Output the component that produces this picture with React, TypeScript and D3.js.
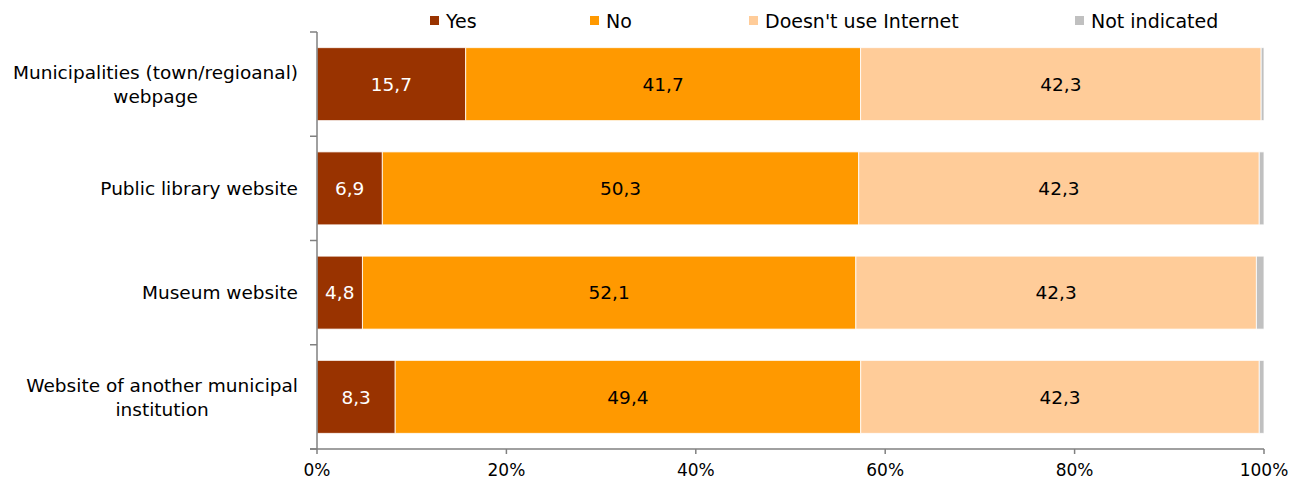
import React, { useEffect, useRef } from "react";
import * as d3 from "d3";

const categories = [
  ["Municipalities (town/regioanal)", "webpage"],
  ["Public library website"],
  ["Museum website"],
  ["Website of another municipal", "institution"],
];
const seriesNames = ["Yes", "No", "Doesn't use Internet", "Not indicated"];
const yesValues = [15.7, 6.9, 4.8, 8.3];
const noValues = [41.7, 50.3, 52.1, 49.4];
const noInternetValues = [42.3, 42.3, 42.3, 42.3];
const notIndicatedValues = [0.3, 0.5, 0.8, 0.5];
const colors = ["#993300", "#FF9900", "#FFCC99", "#C0C0C0"];
const labelColors = ["#ffffff", "#000000", "#000000", "#000000"];
const xTicks = [0, 0.2, 0.4, 0.6, 0.8, 1];

const W = 1304;
const H = 483;
const FONT = "'DejaVu Sans', Verdana, sans-serif";

export default function App() {
  const ref = useRef<SVGSVGElement>(null);
  useEffect(() => {
    const svg = d3.select(ref.current);
    svg.selectAll("*").remove();
    const left = 317, right = 1264, top = 32, bottom = 449;
    const x = d3.scaleLinear().domain([0, 1]).range([left, right]);
    const y = d3
      .scaleBand<number>()
      .domain(d3.range(categories.length))
      .range([top, bottom])
      .paddingInner(0.3)
      .paddingOuter(0.15);

    const series = [yesValues, noValues, noInternetValues, notIndicatedValues];

    categories.forEach((_, i) => {
      const total = d3.sum(series, (s) => s[i]);
      let acc = 0;
      series.forEach((s, k) => {
        const v = s[i];
        const x0 = x(acc / total);
        const x1 = x((acc + v) / total);
        acc += v;
        svg
          .append("rect")
          .attr("x", x0)
          .attr("y", y(i)!)
          .attr("width", Math.max(0, x1 - x0))
          .attr("height", y.bandwidth())
          .attr("fill", colors[k])
          .attr("stroke", "#ffffff")
          .attr("stroke-width", 1)
          .attr("stroke-opacity", 0.8);
        if (k < 3) {
          svg
            .append("text")
            .attr("x", (x0 + x1) / 2)
            .attr("y", y(i)! + y.bandwidth() / 2)
            .attr("dy", "0.36em")
            .attr("text-anchor", "middle")
            .attr("font-family", FONT)
            .attr("font-size", 18.5)
            .attr("fill", labelColors[k])
            .text(d3.format(".1f")(v).replace(".", ","));
        }
      });
    });

    const axisColor = "#808080";
    svg
      .append("line")
      .attr("x1", left)
      .attr("x2", left)
      .attr("y1", top)
      .attr("y2", bottom)
      .attr("stroke", axisColor)
      .attr("stroke-width", 1.5);
    const bounds = d3.range(categories.length + 1).map((j) => top + j * ((bottom - top) / categories.length));
    bounds.forEach((b) => {
      svg
        .append("line")
        .attr("x1", left - 7)
        .attr("x2", left)
        .attr("y1", b)
        .attr("y2", b)
        .attr("stroke", axisColor)
        .attr("stroke-width", 1.5);
    });
    svg
      .append("line")
      .attr("x1", left - 7)
      .attr("x2", right)
      .attr("y1", bottom)
      .attr("y2", bottom)
      .attr("stroke", axisColor)
      .attr("stroke-width", 1.5);
    xTicks.forEach((t) => {
      svg
        .append("line")
        .attr("x1", x(t))
        .attr("x2", x(t))
        .attr("y1", bottom)
        .attr("y2", bottom + 5)
        .attr("stroke", axisColor)
        .attr("stroke-width", 1.5);
      svg
        .append("text")
        .attr("x", x(t))
        .attr("y", 470)
        .attr("dy", "0.36em")
        .attr("text-anchor", "middle")
        .attr("font-family", FONT)
        .attr("font-size", 17)
        .attr("fill", "#000")
        .text(d3.format(".0%")(t));
    });

    categories.forEach((lines, i) => {
      const g = svg.append("g");
      const cy = y(i)! + y.bandwidth() / 2;
      const lh = 24;
      const texts = lines.map((line, j) =>
        g
          .append("text")
          .attr("y", cy + (j - (lines.length - 1) / 2) * lh)
          .attr("dy", "0.36em")
          .attr("text-anchor", "middle")
          .attr("font-family", FONT)
          .attr("font-size", 18.5)
          .attr("fill", "#000")
          .text(line)
      );
      const maxW = d3.max(texts, (t) => (t.node() as SVGTextElement).getComputedTextLength()) || 0;
      texts.forEach((t) => t.attr("x", 298 - maxW / 2));
    });

    const legendX = [430, 590, 749, 1075];
    seriesNames.forEach((name, k) => {
      svg
        .append("rect")
        .attr("x", legendX[k])
        .attr("y", 16)
        .attr("width", 9)
        .attr("height", 9)
        .attr("fill", colors[k]);
      svg
        .append("text")
        .attr("x", legendX[k] + 16)
        .attr("y", 21)
        .attr("dy", "0.36em")
        .attr("font-family", FONT)
        .attr("font-size", 19)
        .attr("fill", "#000")
        .text(name);
    });
  }, []);
  return (
    <svg
      ref={ref}
      width={W}
      height={H}
      style={{ position: "absolute", left: 0, top: 0, background: "#fff" }}
    />
  );
}
